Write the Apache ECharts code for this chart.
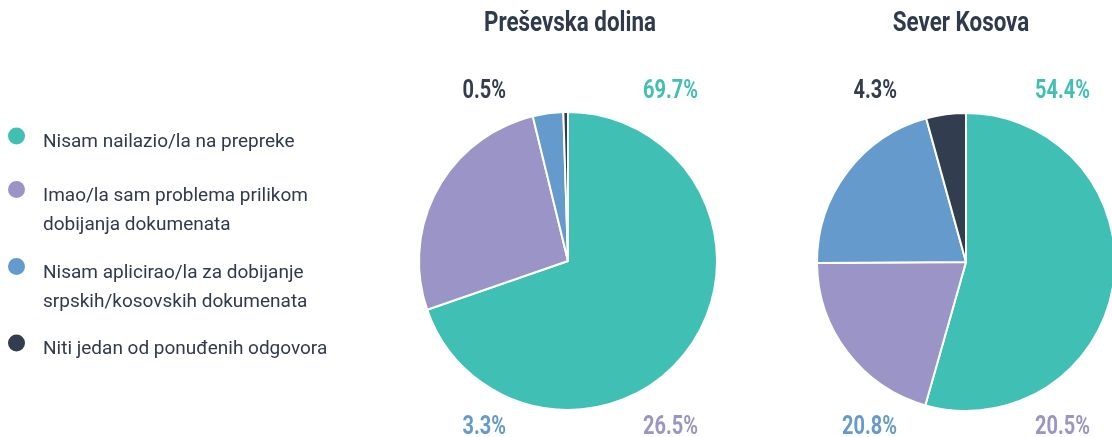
<!DOCTYPE html>
<html>
<head>
<meta charset="utf-8">
<script src="https://cdn.jsdelivr.net/npm/echarts@6/dist/echarts.min.js"></script>
<style>
  html, body { margin: 0; padding: 0; background: #fff; }
  #main { width: 1112px; height: 437px; }
</style>
</head>
<body>
<div id="main"></div>
<script>
// answer categories (legend order = slice order, clockwise from 12 o'clock)
const categories = [
  'Nisam nailazio/la na prepreke',
  'Imao/la sam problema prilikom\ndobijanja dokumenata',
  'Nisam aplicirao/la za dobijanje\nsrpskih/kosovskih dokumenata',
  'Niti jedan od ponuđenih odgovora'
]
const colors = ['#40bfb5', '#9a94c7', '#659bcc', '#333d50']

const regions = ['Preševska dolina', 'Sever Kosova']
const presevoValues = [69.7, 26.5, 3.3, 0.5]
const severValues = [54.4, 20.5, 20.8, 4.3]

const FONT = 'Roboto, "Noto Sans", sans-serif'
const TEXT = '#2f3a4d'
const SQUEEZE = 0.8 // fake the condensed face of the original

// pie layout
const pies = [
  { title: regions[0], values: presevoValues, center: [568, 261], titleX: 570, leftEdge: 506, rightEdge: 643 },
  { title: regions[1], values: severValues, center: [966, 262], titleX: 961, leftEdge: 897, rightEdge: 1035 }
]

// legend rows (top of each legend box)
const legendTops = [119.5, 158.5, 235.5, 326.5]

const chart = echarts.init(document.getElementById('main'))

const legends = categories.map((name, i) => ({
  left: 6,
  top: legendTops[i],
  padding: 0,
  orient: 'vertical',
  icon: 'circle',
  itemWidth: 19,
  itemHeight: 19,
  selectedMode: false,
  data: [name],
  formatter: n => {
    const lines = n.split('\n')
    return (lines.length > 1 ? '{g2| }' : '{g1| }') + '\n' +
      lines.map(s => '{t|' + s + '}').join('\n')
  },
  textStyle: {
    padding: [0, 0, 0, 12],
    rich: {
      g1: { fontSize: 4, lineHeight: 13 },
      g2: { fontSize: 4, lineHeight: 42 },
      t: { fontFamily: FONT, fontSize: 19, lineHeight: 29, color: TEXT }
    }
  }
}))

const graphics = []
pies.forEach(p => {
  graphics.push({
    type: 'text',
    x: p.titleX,
    y: 24,
    scaleX: SQUEEZE,
    style: {
      text: p.title,
      fill: TEXT,
      font: 'bold 28px ' + FONT,
      align: 'center',
      verticalAlign: 'middle'
    }
  })
  // corner labels: top-right, bottom-right, bottom-left, top-left
  const spots = [
    { x: p.rightEdge, y: 92, align: 'left' },
    { x: p.rightEdge, y: 428, align: 'left' },
    { x: p.leftEdge, y: 428, align: 'right' },
    { x: p.leftEdge, y: 92, align: 'right' }
  ]
  p.values.forEach((v, i) => {
    graphics.push({
      type: 'text',
      x: spots[i].x,
      y: spots[i].y,
      scaleX: SQUEEZE,
      style: {
        text: v.toFixed(1) + '%',
        fill: colors[i],
        font: 'bold 25px ' + FONT,
        align: spots[i].align,
        verticalAlign: 'middle'
      }
    })
  })
})

const option = {
  animation: false,
  color: colors,
  legend: legends,
  graphic: graphics,
  series: pies.map(p => ({
    type: 'pie',
    center: p.center,
    radius: 149,
    startAngle: 90,
    clockwise: true,
    label: { show: false },
    labelLine: { show: false },
    emphasis: { disabled: true },
    itemStyle: { borderColor: '#fff', borderWidth: 2 },
    data: categories.map((name, i) => ({ name: name, value: p.values[i] }))
  }))
}

chart.setOption(option)
</script>
</body>
</html>
